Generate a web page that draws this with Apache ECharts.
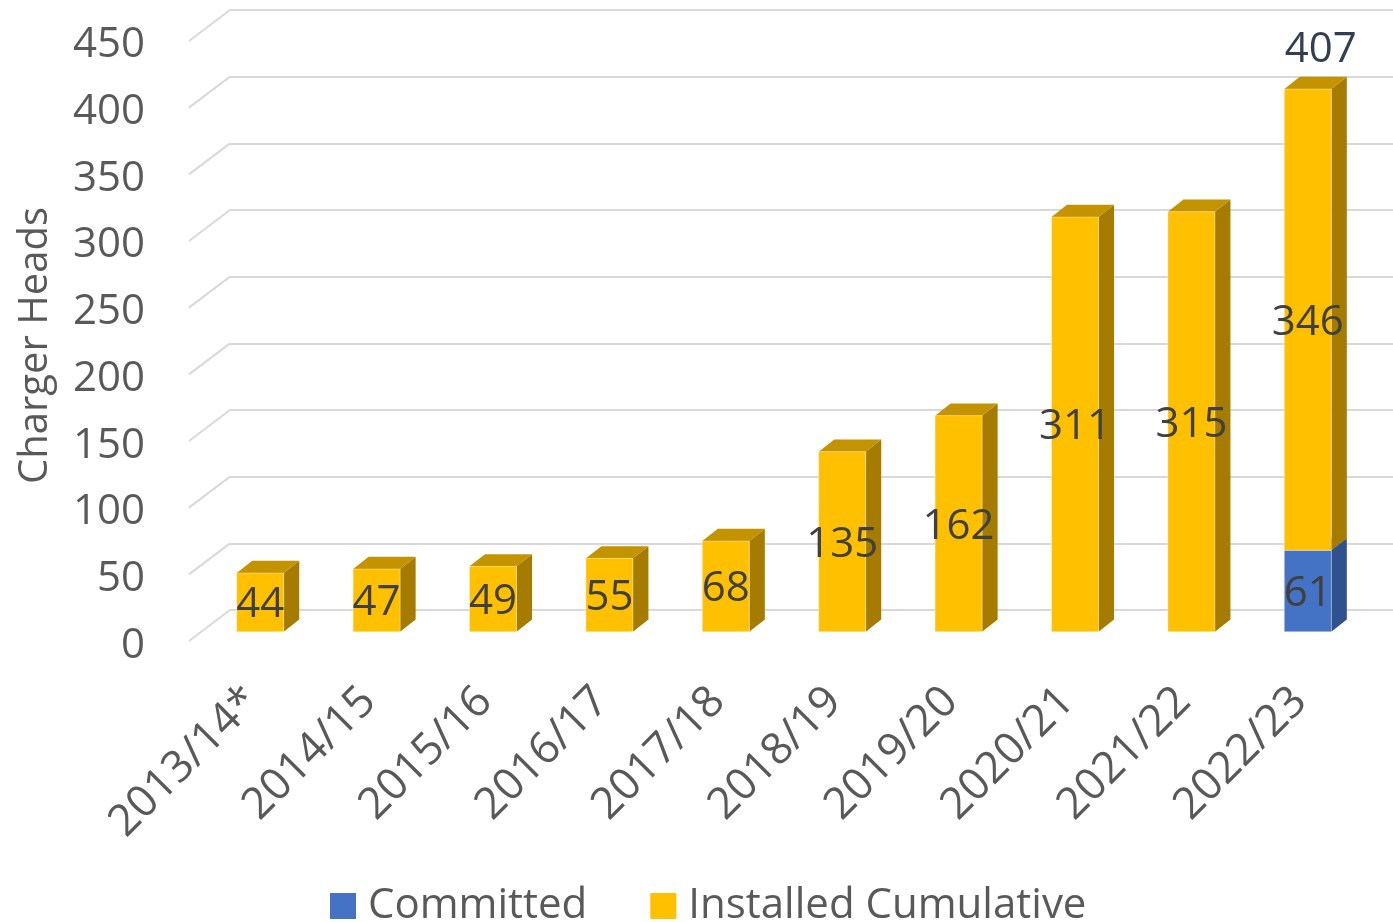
<!DOCTYPE html>
<html>
<head>
<meta charset="utf-8">
<script src="https://cdn.jsdelivr.net/npm/echarts@6/dist/echarts.min.js"></script>
<style>
html,body{margin:0;padding:0;background:#fff;}
#chart{width:1393px;height:922px;}
</style>
</head>
<body>
<div id="chart"></div>
<script>
const categories = ['2013/14*','2014/15','2015/16','2016/17','2017/18','2018/19','2019/20','2020/21','2021/22','2022/23'];
const committed = [0,0,0,0,0,0,0,0,0,61];
const installed = [44,47,49,55,68,135,162,311,315,346];
const totals = [null,null,null,null,null,null,null,null,null,407];
const yTicks = [0,50,100,150,200,250,300,350,400,450];

const FONT = 'Open Sans';
const chart = echarts.init(document.getElementById('chart'));

function bar3D(front, side, topc, labelColor) {
  return function (params, api) {
    const i = api.value(0), b = api.value(1), t = api.value(2), v = api.value(3);
    if (!(t > b)) return;
    const p0 = api.coord([i, b]);
    const p1 = api.coord([i, t]);
    const bw = api.size([1, 0])[0] * 0.404;
    const x0 = p0[0] - bw / 2, x1 = p0[0] + bw / 2;
    const dx = bw * 0.33, dy = bw * 0.26;
    const children = [
      {type: 'polygon', shape: {points: [[x1, p0[1]], [x1, p1[1]], [x1 + dx, p1[1] - dy], [x1 + dx, p0[1] - dy]]}, style: {fill: side}},
      {type: 'polygon', shape: {points: [[x0, p1[1]], [x1, p1[1]], [x1 + dx, p1[1] - dy], [x0 + dx, p1[1] - dy]]}, style: {fill: topc}},
      {type: 'rect', shape: {x: x0, y: p1[1], width: bw, height: p0[1] - p1[1]}, style: {fill: front, stroke: 'rgba(255,255,255,0.35)', lineWidth: 1}},
      {type: 'text', style: {text: String(v), x: p0[0], y: (p0[1] + p1[1]) / 2 + 3, align: 'center', verticalAlign: 'middle', fill: labelColor, font: '42px "' + FONT + '"'}}
    ];
    return {type: 'group', children: children};
  };
}

const instData = installed.map((v, i) => [i, committed[i], committed[i] + v, v]);
const commData = committed.map((v, i) => [i, 0, v, v]);
const totalData = totals.map((v, i) => [i, v]);

chart.setOption({
  backgroundColor: '#ffffff',
  animation: false,
  grid: [
    {left: 202, right: 27, top: 31.7, bottom: 290.3},
    {left: 189, right: 27, top: 45, bottom: 276},
    {left: 230, right: 0, top: 10, bottom: 312}
  ],
  xAxis: [
    {gridIndex: 0, type: 'category', data: categories, boundaryGap: true,
     axisLine: {show: false}, axisTick: {show: false},
     axisLabel: {rotate: 45, margin: 55, fontSize: 44, color: '#595959', fontFamily: FONT, interval: 0, padding: [0, 11, 0, 0]}},
    {gridIndex: 1, type: 'value', min: 0, max: 1, show: false},
    {gridIndex: 2, type: 'value', min: 0, max: 1, show: false}
  ],
  yAxis: [
    {gridIndex: 0, type: 'value', min: 0, max: 450, interval: 50, show: false},
    {gridIndex: 1, type: 'value', min: 0, max: 450, interval: 50,
     axisLine: {show: false}, axisTick: {show: false}, splitLine: {show: false},
     axisLabel: {margin: 44, fontSize: 42, color: '#595959', fontFamily: FONT},
     name: 'Charger Heads', nameLocation: 'middle', nameRotate: 90, nameGap: 133,
     nameTextStyle: {fontSize: 40, color: '#595959', fontFamily: FONT}},
    {gridIndex: 2, type: 'value', min: 0, max: 450, interval: 50,
     axisLine: {show: false}, axisTick: {show: false}, axisLabel: {show: false},
     splitLine: {show: true, lineStyle: {color: '#d9d9d9', width: 2}}}
  ],
  legend: {
    left: 325, top: 880, itemWidth: 26, itemHeight: 26, itemGap: 63,
    icon: 'rect',
    textStyle: {fontSize: 42, color: '#595959', fontFamily: FONT, padding: [0, 0, 0, 7]},
    data: [{name: 'Committed', itemStyle: {color: '#4472C4'}}, {name: 'Installed Cumulative', itemStyle: {color: '#FFC000'}}]
  },
  series: [
    {type: 'custom', name: 'diag', xAxisIndex: 2, yAxisIndex: 2, z: 1, silent: true,
     data: yTicks.map(v => [0, v]),
     renderItem: function (params, api) {
       const p = api.coord([0, api.value(1)]);
       return {type: 'line', shape: {x1: p[0] - 41, y1: p[1] + 31, x2: p[0], y2: p[1]}, style: {stroke: '#d9d9d9', lineWidth: 2}};
     }},
    {type: 'custom', name: 'Committed', xAxisIndex: 0, yAxisIndex: 0, z: 3,
     itemStyle: {color: '#4472C4'},
     encode: {x: 0, y: 2},
     data: commData, renderItem: bar3D('#4472C4', '#2F528F', '#3A62A8', '#404040')},
    {type: 'custom', name: 'Installed Cumulative', xAxisIndex: 0, yAxisIndex: 0, z: 4,
     itemStyle: {color: '#FFC000'},
     encode: {x: 0, y: 2},
     data: instData, renderItem: bar3D('#FFC000', '#A67C00', '#C49300', '#404040')},
    {type: 'custom', name: 'total', xAxisIndex: 0, yAxisIndex: 0, z: 5, silent: true,
     data: totalData,
     renderItem: function (params, api) {
       const v = api.value(1);
       if (v == null || isNaN(v)) return;
       const p = api.coord([api.value(0), v]);
       return {type: 'text', style: {text: String(v), x: p[0] + 13, y: p[1] - 39, align: 'center', verticalAlign: 'middle', fill: '#333F50', font: '42px "' + FONT + '"'}};
     }}
  ]
});
</script>
</body>
</html>
